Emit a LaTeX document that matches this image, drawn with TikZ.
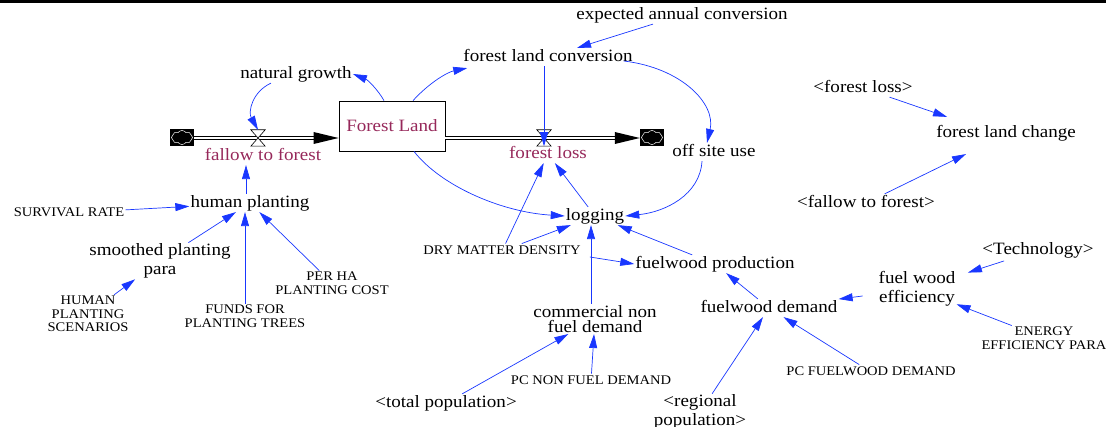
\documentclass[tikz,border=0pt]{standalone}
\usepackage{fontspec}
\setmainfont{Liberation Serif}[FakeStretch=1.1]
\usetikzlibrary{arrows.meta,calc,shapes.symbols}
\definecolor{lnk}{RGB}{25,55,255}
\definecolor{flowc}{RGB}{150,40,90}
\begin{document}
\begin{tikzpicture}[x=1pt,y=-1pt,
 var/.style={font=\fontsize{17.3}{18.5}\selectfont, inner sep=1pt, align=center},
 sl/.style={text height=12pt, text depth=3.8pt},
 const/.style={font=\fontsize{13.2}{13.6}\selectfont, inner sep=1pt, align=center},
 slc/.style={text height=9.5pt, text depth=3pt},
 flowlbl/.style={var, text=flowc},
 link/.style={draw=lnk, line width=0.7pt, -{Triangle[length=14pt,width=8pt]}},
 pipe/.style={double=white, double distance=2.6pt, line width=0.7pt, draw=black},
 valve/.style={minimum width=14pt, minimum height=16pt, inner sep=0pt},
 cloudbox/.style={fill=black, minimum width=24pt, minimum height=17pt, inner sep=0pt},
 puff/.style={cloud, cloud puffs=8, cloud puff arc=110, aspect=1.5, draw=white, line width=0.5pt, minimum width=21pt, minimum height=14pt, inner sep=0pt},
 stockbox/.style={draw=black, line width=0.8pt, fill=white, minimum width=106pt, minimum height=50pt, font=\fontsize{17.3}{19}\selectfont, text=flowc}
]
\useasboundingbox (0,0) rectangle (1106,427);
\fill[black] (0,0) rectangle (1106,3.5);

% stock and flows
\node[stockbox] (FL) at (392,126) {Forest Land};
\node[cloudbox] (c1) at (182,137.5) {};
\node[puff] at (c1) {};
\node[cloudbox] (c2) at (652,137.5) {};
\node[puff] at (c2) {};
\node[valve] (v1) at (258,138) {};
\node[valve] (v2) at (544,138) {};

\draw[pipe] (c1.east |- v1) -- ($(FL.west |- v1)+(-22,0)$);
\fill[black] ($(FL.west |- v1)+(-25,-6)$) -- (FL.west |- v1) -- ($(FL.west |- v1)+(-25,6)$) -- cycle;
\draw[pipe] (FL.east |- v2) -- ($(c2.west |- v2)+(-22,0)$);
\fill[black] ($(c2.west |- v2)+(-25,-6)$) -- (c2.west |- v2) -- ($(c2.west |- v2)+(-25,6)$) -- cycle;
\filldraw[fill=white, draw=black, line width=0.6pt] (v1.north west) -- (v1.north east) -- (v1.south west) -- (v1.south east) -- cycle;
\filldraw[fill=white, draw=black, line width=0.6pt] (v2.north west) -- (v2.north east) -- (v2.south west) -- (v2.south east) -- cycle;

\node[flowlbl,sl] (ftf) at (263,156) {fallow to forest};
\node[flowlbl,sl] (floss) at (548,154) {forest loss};

% variables
\node[var,sl] (eac) at (682,15) {expected annual conversion};
\node[var,sl] (flc) at (548,57) {forest land conversion};
\node[var,sl] (ng) at (296,74) {natural growth};
\node[var,sl] (osu) at (714,152) {off site use};
\node[var,sl] (log) at (595,216) {logging};
\node[var,sl] (hp) at (250,203) {human planting};
\node[const,slc] (sr) at (69,213) {SURVIVAL RATE};
\node[var] (spp) at (160,261) {smoothed planting\\para};
\node[const] (hps) at (88,314) {HUMAN\\PLANTING\\SCENARIOS};
\node[const] (funds) at (245,316) {FUNDS FOR\\PLANTING TREES};
\node[const] (perha) at (332,283) {PER HA\\PLANTING COST};
\node[const,slc] (dmd) at (502,251) {DRY MATTER DENSITY};
\node[var,sl] (fp) at (715,264) {fuelwood production};
\node[var,font=\fontsize{17.3}{15.5}\selectfont] (cnfd) at (595,319) {commercial non\\fuel demand};
\node[var,sl] (fwd) at (769,308) {fuelwood demand};
\node[var] (fwe) at (917,289) {fuel wood\\efficiency};
\node[var,sl] (tech) at (1038,250) {<Technology>};
\node[const] (eep) at (1044,338) {ENERGY\\EFFICIENCY PARA};
\node[const,slc] (pcfd) at (871,372) {PC FUELWOOD DEMAND};
\node[const,slc] (pcnfd) at (591,381) {PC NON FUEL DEMAND};
\node[var,sl] (tp) at (446,403) {<total population>};
\node[var] (rp) at (700,412) {<regional\\population>};
\node[var,sl] (flcs) at (863,88) {<forest loss>};
\node[var,sl] (flch) at (1006,133) {forest land change};
\node[var,sl] (ftf2) at (866,203) {<fallow to forest>};

% curved links
\draw[link] (ng.200) .. controls (252,92) and (248,112) .. (v1.north);
\draw[link] ($(FL.north)+(-8,0)$) .. controls (378,90) and (368,80) .. (ng.east);
\draw[link] ($(FL.north)+(21,0)$) .. controls (430,82) and (448,72) .. ($(flc.south west)+(5,2)$);
\draw[link] ($(flc.east)+(-10,4)$) .. controls (682,68) and (716,104) .. ($(osu.north)+(-7,0)$);
\draw[link] ($(osu.south)+(-12,0)$) .. controls (700,195) and (665,212) .. (log.east);
\draw[link] ($(FL.south)+(22,0)$) .. controls (440,185) and (500,212) .. (log.west);

% straight links
\draw[link] (eac) -- (flc);
\draw[link] (flc.south -| v2) -- (v2.south);
\draw[link] (log) -- (floss);
\draw[link] (dmd) -- (floss);
\draw[link] (dmd) -- (log);
\draw[link] ($(cnfd.north)+(-4,0)$) -- ($(cnfd.north |- log.south)+(-4,0)$);
\draw[link] ($(dmd.east)+(8,6)$) -- (fp.west);
\draw[link] (fp) -- (log);
\draw[link] (fwd) -- (fp);
\draw[link, shorten <=15pt] (fwe) -- (fwd);
\draw[link, shorten <=6pt, shorten >=12pt] (tech) -- (fwe);
\draw[link] (eep) -- (fwe);
\draw[link] (pcfd) -- (fwd);
\draw[link] (rp) -- (fwd);
\draw[link] (tp) -- (cnfd);
\draw[link] (pcnfd) -- (cnfd);
\draw[link] ($(hp.north)+(-4,0)$) -- ($(hp.north |- ftf.south)+(-4,0)$);
\draw[link] (sr) -- (hp);
\draw[link] (spp) -- (hp);
\draw[link] (hps) -- (spp);
\draw[link] (funds.north) -- (funds.north |- hp.south);
\draw[link] (perha) -- (hp);
\draw[link] (flcs) -- ($(flch.north west)+(12,-7)$);
\draw[link] (ftf2) -- ($(flch.south)+(-40,12)$);
\end{tikzpicture}
\end{document}
